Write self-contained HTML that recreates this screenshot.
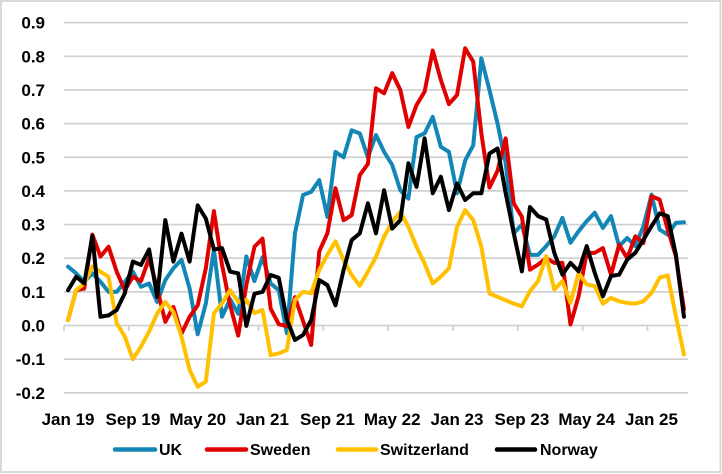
<!DOCTYPE html>
<html><head><meta charset="utf-8"><style>
html,body{margin:0;padding:0;background:#fff;}
svg{display:block;}
text{font-family:"Liberation Sans",Arial,sans-serif;font-weight:bold;fill:#000;}
</style></head><body>
<svg width="722" height="474" viewBox="0 0 722 474" xmlns="http://www.w3.org/2000/svg">
<rect x="0" y="0" width="722" height="474" fill="#fff"/>
<rect x="1" y="1" width="719.5" height="471" fill="none" stroke="#d9d9d9" stroke-width="2"/>
<g stroke="#d0d0d0" stroke-width="1.7">
<line x1="64" x2="688" y1="22.65" y2="22.65"/>
<line x1="64" x2="688" y1="56.3" y2="56.3"/>
<line x1="64" x2="688" y1="89.95" y2="89.95"/>
<line x1="64" x2="688" y1="123.6" y2="123.6"/>
<line x1="64" x2="688" y1="157.25" y2="157.25"/>
<line x1="64" x2="688" y1="190.9" y2="190.9"/>
<line x1="64" x2="688" y1="224.55" y2="224.55"/>
<line x1="64" x2="688" y1="258.2" y2="258.2"/>
<line x1="64" x2="688" y1="291.85" y2="291.85"/>
<line x1="64" x2="688" y1="325.5" y2="325.5"/>
<line x1="64" x2="688" y1="359.15" y2="359.15"/>
<line x1="64" x2="688" y1="392.8" y2="392.8"/>
<line x1="64" x2="64" y1="325.5" y2="331"/>
<line x1="128.8" x2="128.8" y1="325.5" y2="331"/>
<line x1="193.7" x2="193.7" y1="325.5" y2="331"/>
<line x1="258.5" x2="258.5" y1="325.5" y2="331"/>
<line x1="323.3" x2="323.3" y1="325.5" y2="331"/>
<line x1="388.2" x2="388.2" y1="325.5" y2="331"/>
<line x1="453" x2="453" y1="325.5" y2="331"/>
<line x1="517.8" x2="517.8" y1="325.5" y2="331"/>
<line x1="582.7" x2="582.7" y1="325.5" y2="331"/>
<line x1="647.5" x2="647.5" y1="325.5" y2="331"/>
</g>
<g font-size="17" text-anchor="end">
<text x="45" y="28.7">0.9</text>
<text x="45" y="62.3">0.8</text>
<text x="45" y="96">0.7</text>
<text x="45" y="129.6">0.6</text>
<text x="45" y="163.3">0.5</text>
<text x="45" y="196.9">0.4</text>
<text x="45" y="230.6">0.3</text>
<text x="45" y="264.2">0.2</text>
<text x="45" y="297.9">0.1</text>
<text x="45" y="331.5">0.0</text>
<text x="45" y="365.2">-0.1</text>
<text x="45" y="398.8">-0.2</text>
</g>
<g font-size="17" text-anchor="middle">
<text x="68.05" y="425">Jan 19</text>
<text x="132.9" y="425">Sep 19</text>
<text x="197.7" y="425">May 20</text>
<text x="262.5" y="425">Jan 21</text>
<text x="327.4" y="425">Sep 21</text>
<text x="392.2" y="425">May 22</text>
<text x="457" y="425">Jan 23</text>
<text x="521.9" y="425">Sep 23</text>
<text x="586.7" y="425">May 24</text>
<text x="651.5" y="425">Jan 25</text>
</g>
<g transform="translate(68.05,325.5) scale(8.104,-336.5)" fill="none" stroke-width="4" stroke-linejoin="round" stroke-linecap="round">
<polyline vector-effect="non-scaling-stroke" stroke="#1286B4" points="0,0.175 1,0.155 2,0.13 3,0.155 4,0.13 5,0.10 6,0.10 7,0.13 8,0.16 9,0.115 10,0.125 11,0.07 12,0.135 13,0.17 14,0.195 15,0.11 16,-0.026 17,0.065 18,0.226 19,0.026 20,0.078 21,0.035 22,0.205 23,0.132 24,0.203 25,0.125 26,0.105 27,-0.023 28,0.274 29,0.388 30,0.397 31,0.432 32,0.323 33,0.516 34,0.50 35,0.58 36,0.571 37,0.50 38,0.566 39,0.516 40,0.477 41,0.402 42,0.377 43,0.56 44,0.571 45,0.62 46,0.531 47,0.516 48,0.393 49,0.49 50,0.536 51,0.794 52,0.70 53,0.60 54,0.482 55,0.274 56,0.30 57,0.21 58,0.21 59,0.236 60,0.265 61,0.32 62,0.246 63,0.28 64,0.31 65,0.335 66,0.29 67,0.325 68,0.236 69,0.26 70,0.236 71,0.295 72,0.389 73,0.285 74,0.27 75,0.305 76,0.307"/>
<polyline vector-effect="non-scaling-stroke" stroke="#E00000" points="0,0.016 1,0.105 2,0.11 3,0.27 4,0.205 5,0.234 6,0.16 7,0.105 8,0.145 9,0.132 10,0.2 11,0.11 12,0.011 13,0.055 14,-0.024 15,0.026 16,0.06 17,0.17 18,0.34 19,0.18 20,0.06 21,-0.03 22,0.12 23,0.234 24,0.258 25,0.05 26,0.004 27,-0.002 28,0.084 29,0.013 30,-0.058 31,0.22 32,0.274 33,0.408 34,0.313 35,0.328 36,0.447 37,0.48 38,0.705 39,0.69 40,0.75 41,0.70 42,0.59 43,0.655 44,0.695 45,0.817 46,0.73 47,0.658 48,0.685 49,0.824 50,0.784 51,0.571 52,0.41 53,0.46 54,0.556 55,0.363 56,0.323 57,0.166 58,0.181 59,0.2 60,0.186 61,0.186 62,0.003 63,0.087 64,0.216 65,0.216 66,0.23 67,0.151 68,0.24 69,0.2 70,0.265 71,0.245 72,0.384 73,0.374 74,0.285 75,0.206 76,0.048"/>
<polyline vector-effect="non-scaling-stroke" stroke="#FFC000" points="0,0.016 1,0.105 2,0.125 3,0.175 4,0.16 5,0.145 6,0.007 7,-0.033 8,-0.1 9,-0.063 10,-0.018 11,0.036 12,0.07 13,0.04 14,-0.033 15,-0.132 16,-0.182 17,-0.167 18,0.036 19,0.066 20,0.105 21,0.07 22,0.076 23,0.037 24,0.046 25,-0.088 26,-0.083 27,-0.073 28,0.076 29,0.1 30,0.096 31,0.165 32,0.21 33,0.25 34,0.195 35,0.15 36,0.118 37,0.16 38,0.204 39,0.264 40,0.308 41,0.338 42,0.293 43,0.234 44,0.184 45,0.125 46,0.145 47,0.17 48,0.293 49,0.343 50,0.313 51,0.234 52,0.095 53,0.085 54,0.075 55,0.065 56,0.057 57,0.102 58,0.132 59,0.206 60,0.107 61,0.132 62,0.067 63,0.156 64,0.122 65,0.117 66,0.065 67,0.082 68,0.072 69,0.067 70,0.065 71,0.072 72,0.097 73,0.142 74,0.149 75,0.028 76,-0.086"/>
<polyline vector-effect="non-scaling-stroke" stroke="#000000" points="0,0.105 1,0.145 2,0.125 3,0.266 4,0.026 5,0.03 6,0.046 7,0.096 8,0.19 9,0.18 10,0.226 11,0.085 12,0.313 13,0.19 14,0.273 15,0.19 16,0.357 17,0.318 18,0.226 19,0.23 20,0.16 21,0.155 22,-0.001 23,0.094 24,0.1 25,0.15 26,0.142 27,0.018 28,-0.043 29,-0.028 30,0.016 31,0.135 32,0.12 33,0.06 34,0.165 35,0.254 36,0.274 37,0.363 38,0.274 39,0.402 40,0.288 41,0.313 42,0.482 43,0.412 44,0.556 45,0.393 46,0.442 47,0.343 48,0.422 49,0.373 50,0.393 51,0.393 52,0.511 53,0.526 54,0.393 55,0.274 56,0.161 57,0.352 58,0.325 59,0.315 60,0.216 61,0.151 62,0.186 63,0.161 64,0.236 65,0.156 66,0.087 67,0.147 68,0.151 69,0.196 70,0.216 71,0.255 72,0.295 73,0.333 74,0.325 75,0.211 76,0.026"/>
</g>
<g stroke-width="4.5" stroke-linecap="round">
<line x1="115" x2="155" y1="449.5" y2="449.5" stroke="#1286B4"/>
<line x1="207" x2="246" y1="449.5" y2="449.5" stroke="#E00000"/>
<line x1="338" x2="376" y1="449.5" y2="449.5" stroke="#FFC000"/>
<line x1="497" x2="535" y1="449.5" y2="449.5" stroke="#000000"/>
</g>
<g font-size="16">
<text x="159" y="455">UK</text>
<text x="250" y="455">Sweden</text>
<text x="380" y="455">Switzerland</text>
<text x="540" y="455">Norway</text>
</g>
</svg>
</body></html>
